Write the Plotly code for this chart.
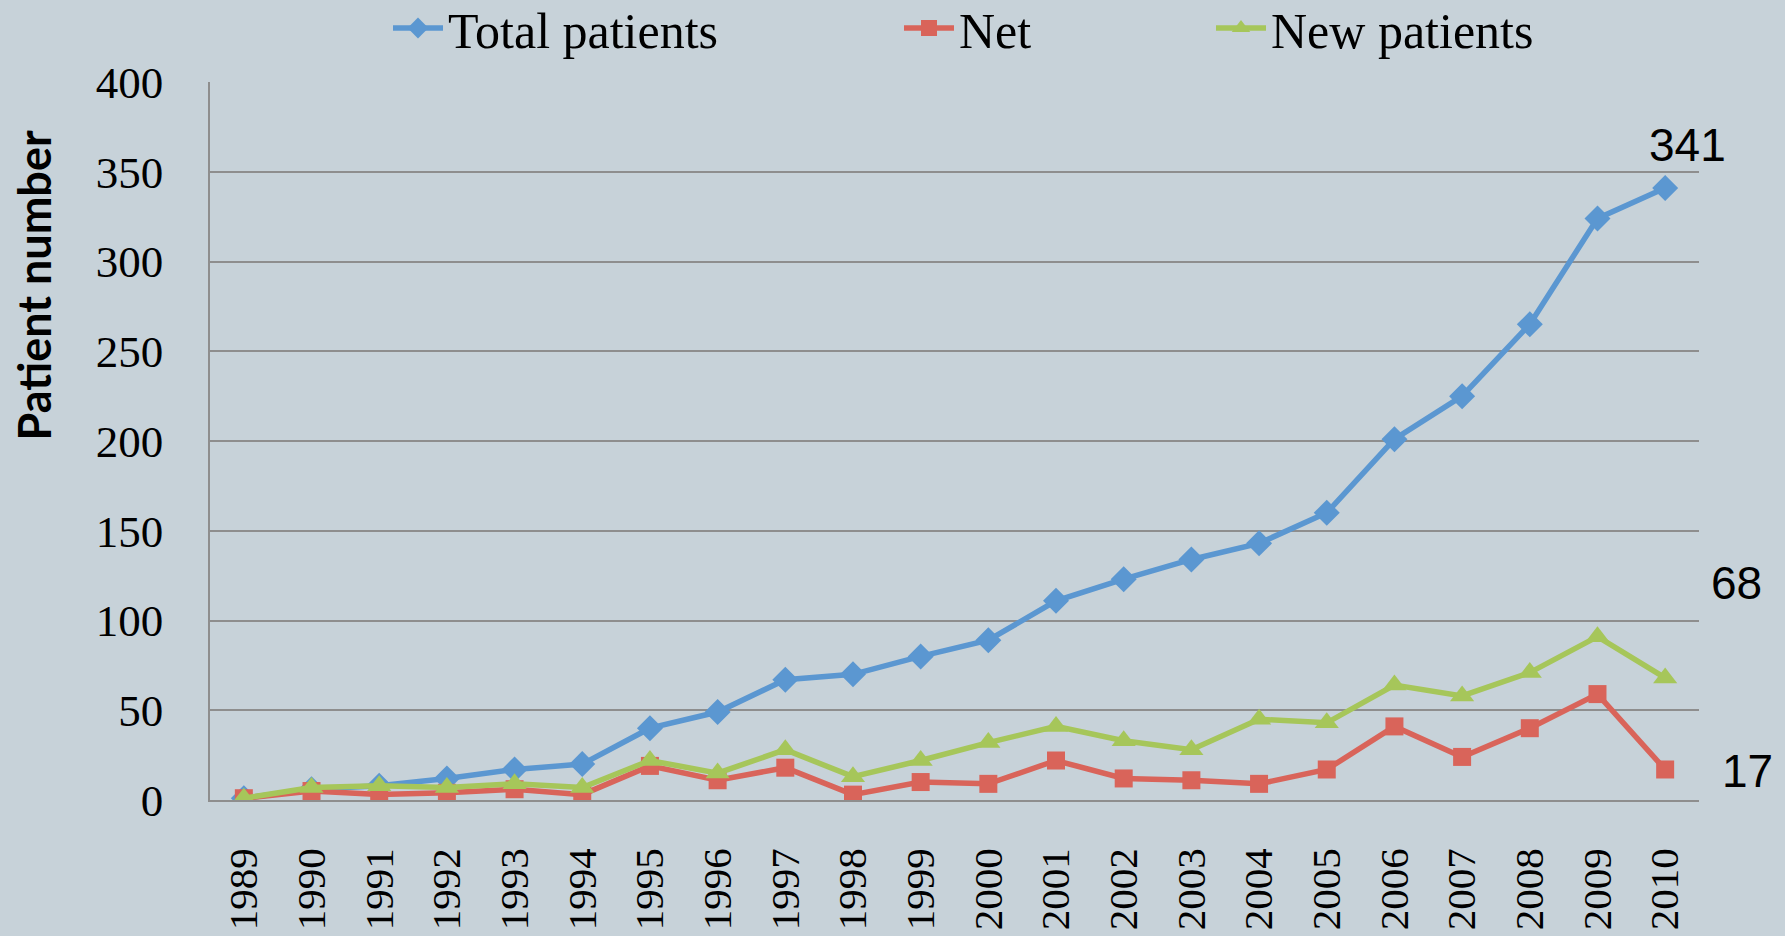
import plotly.graph_objects as go

years = [str(y) for y in range(1989, 2011)]
total_patients = [1, 6, 8, 12, 17, 20, 40, 49, 67, 70, 80, 89, 111, 123, 134, 143, 160, 201, 225, 265, 324, 341]
net = [1, 5, 3, 4, 6, 3, 19, 11, 18, 3, 10, 9, 22, 12, 11, 9, 17, 41, 24, 40, 59, 17]
new_patients = [1, 7, 8, 7, 9, 7, 22, 15, 28, 13, 22, 32, 41, 33, 28, 45, 43, 64, 58, 71, 91, 68]

BG = "#C7D2D9"
SERIF = "Liberation Serif, Times New Roman, serif"

fig = go.Figure()

# series, drawn in legend order (green ends up on top)
fig.add_trace(go.Scatter(x=years, y=total_patients, mode="lines+markers", name="Total patients",
                         line=dict(color="#5B97D1", width=5.5),
                         marker=dict(symbol="diamond", size=20, color="#5B97D1"),
                         legend="legend", showlegend=True))
fig.add_trace(go.Scatter(x=years, y=net, mode="lines+markers", name="Net",
                         line=dict(color="#D9645A", width=5.5),
                         marker=dict(symbol="square", size=18, color="#D9645A"),
                         legend="legend2", showlegend=True))
fig.add_trace(go.Scatter(x=years, y=new_patients, mode="lines+markers", name="New patients",
                         line=dict(color="#A6C65A", width=5.5),
                         marker=dict(symbol="triangle-up", size=21, color="#A6C65A"),
                         legend="legend3", showlegend=True))

# end-of-series value labels (x given as category index of the last year)
last = len(years) - 1
end_labels = [
    (total_patients[-1], 22, 43),
    (new_patients[-1], 71, 95),
    (net[-1], 82, -2),
]
for val, dx, dy in end_labels:
    fig.add_annotation(x=last, y=val, text=str(val), showarrow=False,
                       xshift=dx, yshift=dy,
                       font=dict(family="Liberation Sans, Arial, sans-serif", size=46, color="black"))

# y-axis title (sits above the plot centre in the original)
fig.add_annotation(x=-0.118, y=0.717, xref="paper", yref="paper", text="<b>Patient number</b>",
                   textangle=-90, showarrow=False, xanchor="center", yanchor="middle",
                   font=dict(family="Lato, Open Sans, sans-serif", size=45, color="black"))

legend_common = dict(orientation="h", xref="container", yref="container", yanchor="middle",
                     xanchor="left", bgcolor="rgba(0,0,0,0)", itemwidth=50,
                     font=dict(family=SERIF, size=50, color="black"))

fig.update_layout(
    width=1785, height=936,
    showlegend=True,
    paper_bgcolor=BG, plot_bgcolor=BG,
    margin=dict(l=210, r=86, t=82, b=136, autoexpand=False),
    legend=dict(x=388 / 1785, y=1 - 28 / 936, **legend_common),
    legend2=dict(x=899 / 1785, y=1 - 28 / 936, **legend_common),
    legend3=dict(x=1211 / 1785, y=1 - 28 / 936, **legend_common),
    xaxis=dict(type="category", range=[-0.5, 21.5], tickangle=-90, showgrid=False,
               showline=True, linecolor="#8E8E8E", linewidth=1.5, ticks="",
               ticklabelstandoff=30,
               tickfont=dict(family=SERIF, size=41, color="black")),
    yaxis=dict(range=[0, 400], dtick=50, showgrid=True, gridcolor="#8E8E8E", gridwidth=1.5,
               showline=True, linecolor="#8E8E8E", linewidth=1.5, zeroline=False, ticks="",
               ticklabelstandoff=36,
               tickfont=dict(family=SERIF, size=45, color="black")),
)

# drop the default page margin so the figure fills the window
fig.write_html("out.html", config={"displayModeBar": False},
               post_script="document.body.style.margin='0';")
